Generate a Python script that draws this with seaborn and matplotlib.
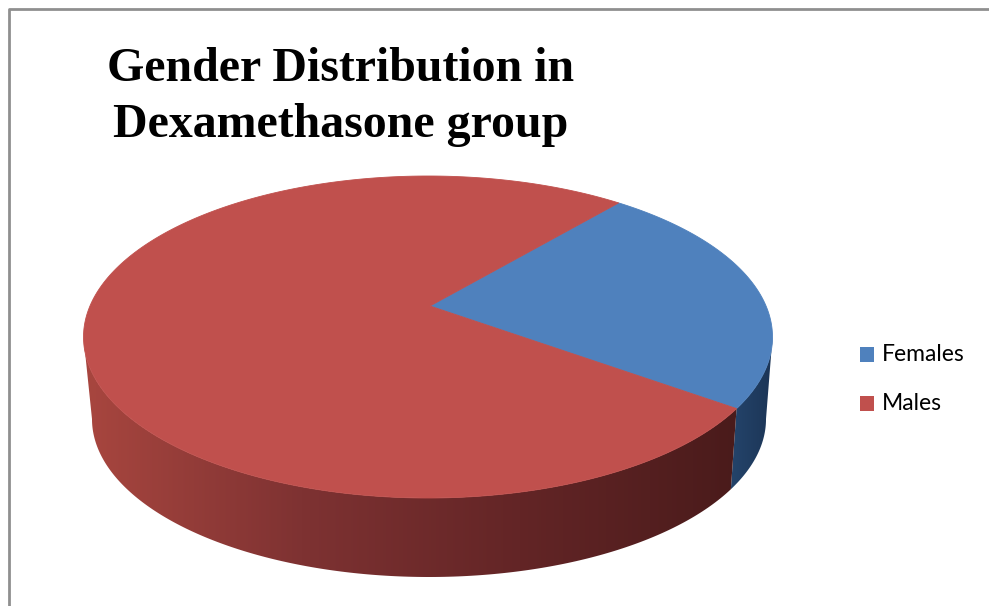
import numpy as np
import matplotlib
matplotlib.use("Agg")
import matplotlib.pyplot as plt
from matplotlib.patches import Polygon, Rectangle
from matplotlib.colors import LinearSegmentedColormap
import seaborn as sns

# Chart data
categories = ["Females", "Males"]
counts = [23, 77]
title_lines = ["Gender Distribution in", "Dexamethasone group"]

sns.set_theme(style="white")
plt.rcParams["font.family"] = ["Lato", "DejaVu Sans"]

top_colors = ["#4F81BD", "#C0504D"]
side_colors = [["#24446B", "#1C3556"], ["#A8463F", "#7E3232", "#632526", "#4A1B1B"]]

W, H = 989, 606
fig = plt.figure(figsize=(W / 100, H / 100), dpi=100)
ax = fig.add_axes([0, 0, 1, 1])
ax.set_xlim(0, W)
ax.set_ylim(H, 0)
ax.axis("off")

# chart frame
ax.plot([9, 9, W + 5], [H + 5, 9, 9], color="#8F8F8F", lw=2, solid_capstyle="butt")

# pie geometry (top rim ellipse, bottom rim ellipse, apex of slices)
top_c, top_r = (428.0, 337.0), (344.5, 161.0)
bot_c, bot_r = (429.0, 419.0), (337.0, 158.0)
apex = (430.0, 306.0)
start_deg = 56.4


def rim(center, radii, t_deg):
    t = np.radians(t_deg)
    return np.column_stack([center[0] + radii[0] * np.cos(t),
                            center[1] - radii[1] * np.sin(t)])


fracs = np.array(counts, dtype=float) / sum(counts)
bounds = start_deg - np.concatenate([[0], np.cumsum(fracs) * 360])


def side_span(a, b):
    # visible front part of the rim lies between -180 and 0 degrees
    lo, hi = min(a, b), max(a, b)
    spans = []
    for k in (0, -360):
        s_lo, s_hi = max(lo, -180 + k), min(hi, 0 + k)
        if s_lo < s_hi:
            spans.append((s_lo, s_hi))
    return spans


# side walls with horizontal shading
for i in range(len(counts)):
    for lo, hi in side_span(bounds[i], bounds[i + 1]):
        ts = np.linspace(lo, hi, 200)
        pts = np.vstack([rim(top_c, top_r, ts), rim(bot_c, bot_r, ts[::-1])])
        poly = Polygon(pts, closed=True, facecolor="none", edgecolor="none")
        ax.add_patch(poly)
        x0, x1 = pts[:, 0].min(), pts[:, 0].max()
        y0, y1 = pts[:, 1].min(), pts[:, 1].max()
        cmap = LinearSegmentedColormap.from_list(f"side{i}", side_colors[i])
        grad = np.linspace(0, 1, 256)[None, :]
        im = ax.imshow(grad, cmap=cmap, extent=[x0, x1, y1, y0],
                       aspect="auto", interpolation="bilinear", zorder=1)
        im.set_clip_path(poly)

# top faces
for i in range(len(counts)):
    ts = np.linspace(bounds[i], bounds[i + 1], 300)
    pts = np.vstack([[apex], rim(top_c, top_r, ts)])
    ax.add_patch(Polygon(pts, closed=True, facecolor=top_colors[i],
                         edgecolor=top_colors[i], lw=0.6, zorder=2))

# title
ax.text(341, 97, "\n".join(title_lines), ha="center", va="center",
        family=["Liberation Serif", "DejaVu Serif"], fontweight="bold",
        fontsize=34.5, linespacing=1.38, color="black")

# legend
for i, name in enumerate(categories):
    y = 354 + i * 49
    ax.add_patch(Rectangle((860, y - 7.5), 14, 15, facecolor=top_colors[i],
                           edgecolor="none"))
    ax.text(882, y + 0.5, name, ha="left", va="center", fontsize=16.5, color="black")

fig.savefig("out.png", dpi=100, facecolor="white")
